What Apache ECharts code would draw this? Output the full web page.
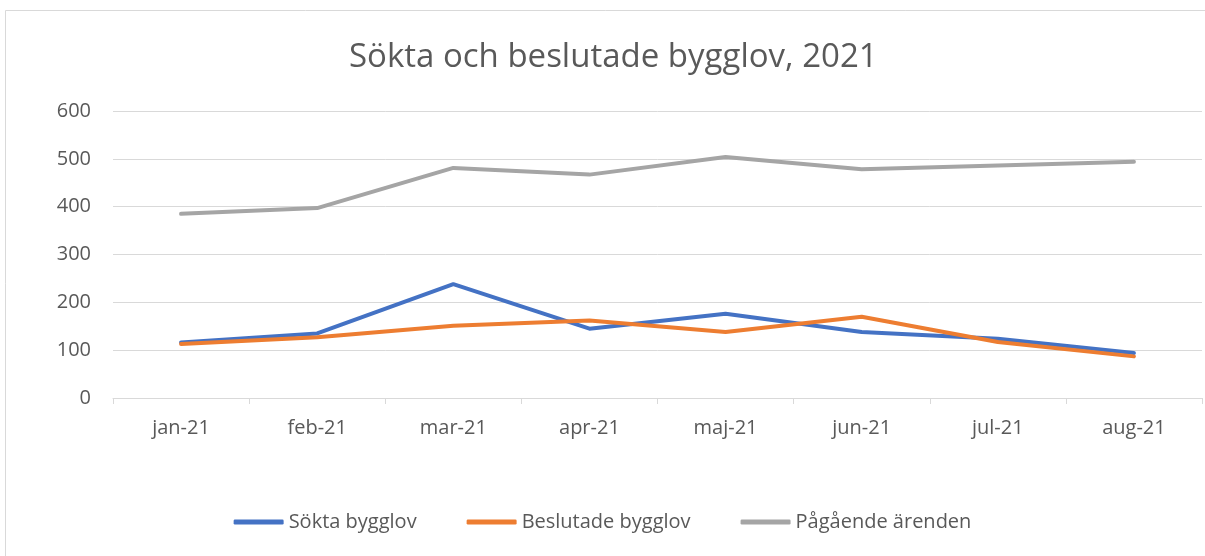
<!DOCTYPE html>
<html><head><meta charset="utf-8">
<script src="https://cdn.jsdelivr.net/npm/echarts@6/dist/echarts.min.js"></script>
<style>html,body{margin:0;padding:0;background:#fff}#c{width:1205px;height:556px}</style>
</head><body><div id="c"></div>
<script>
const categories = ['jan-21','feb-21','mar-21','apr-21','maj-21','jun-21','jul-21','aug-21'];
const soktaBygglov = [116, 135, 238, 145, 176, 138, 124, 94];
const beslutadeBygglov = [113, 127, 151, 162, 138, 170, 117, 87];
const pagaendeArenden = [385, 397, 481, 467, 504, 478, 486, 494];
const yTicks = [0, 100, 200, 300, 400, 500, 600];

const FONT = '"Open Sans", "Liberation Sans", sans-serif';
const chart = echarts.init(document.getElementById('c'));
const mk = (name, data, color) => ({
  name, type: 'line', data, symbol: 'none', smooth: false,
  lineStyle: { width: 4, color, cap: 'round', join: 'round' },
  itemStyle: { color }
});
chart.setOption({
  backgroundColor: '#fff',
  animation: false,
  title: {
    text: 'Sökta och beslutade bygglov, 2021',
    left: 344, top: 36,
    textStyle: { fontFamily: FONT, fontSize: 33, fontWeight: 'normal', color: '#595959' }
  },
  legend: {
    bottom: 19, left: 'center', padding: [5, 5, 5, 15],
    icon: 'roundRect', itemWidth: 50, itemHeight: 5, itemGap: 50,
    textStyle: { fontFamily: FONT, fontSize: 20, color: '#595959' },
    data: ['Sökta bygglov', 'Beslutade bygglov', 'Pågående ärenden']
  },
  grid: { left: 113, right: 3, top: 111, bottom: 158, containLabel: false },
  xAxis: {
    type: 'category', data: categories, boundaryGap: true,
    axisLine: { lineStyle: { color: '#d9d9d9', width: 1 } },
    axisTick: { show: true, length: 6, lineStyle: { color: '#d9d9d9' } },
    axisLabel: { margin: 20, fontFamily: FONT, fontSize: 20, color: '#595959' }
  },
  yAxis: {
    type: 'value', min: yTicks[0], max: yTicks[yTicks.length - 1], interval: 100,
    axisLine: { show: false }, axisTick: { show: false },
    splitLine: { lineStyle: { color: '#d9d9d9', width: 1 } },
    axisLabel: { margin: 22, fontFamily: FONT, fontSize: 20, color: '#595959' }
  },
  series: [
    mk('Sökta bygglov', soktaBygglov, '#4472C4'),
    mk('Beslutade bygglov', beslutadeBygglov, '#ED7D31'),
    mk('Pågående ärenden', pagaendeArenden, '#A5A5A5')
  ],
  graphic: [{
    type: 'rect', shape: { x: 5.5, y: 10.5, width: 1300, height: 700 },
    style: { fill: 'none', stroke: '#d9d9d9', lineWidth: 1 }, silent: true, z: -1
  }]
});
</script></body></html>
